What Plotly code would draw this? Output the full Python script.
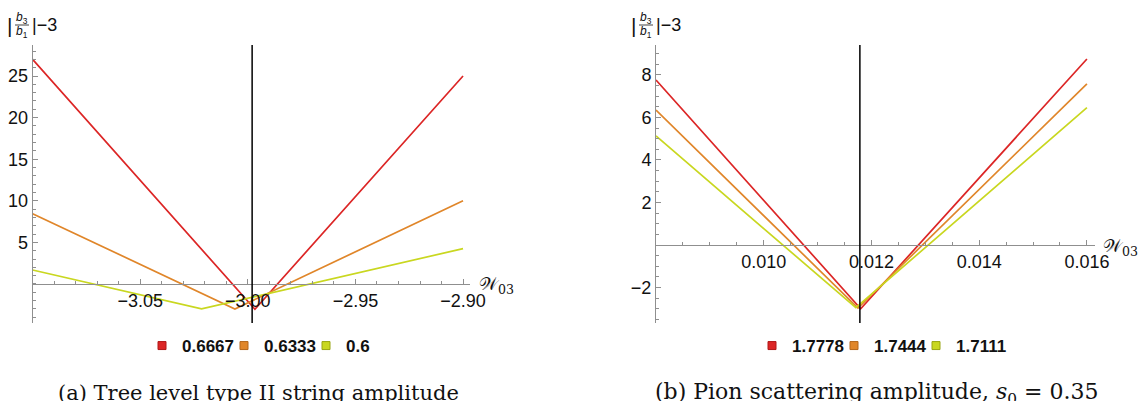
import plotly.graph_objects as go

W, H = 1142, 401

# ---------------- data: panel (a) tree-level type II string amplitude ----------
a_names = ["0.6667", "0.6333", "0.6"]
a_x_red = [-3.1, -2.9967, -2.9]
a_y_red = [27.0, -3.04, 25.0]
a_x_orange = [-3.1, -3.006, -2.9]
a_y_orange = [8.45, -3.0, 10.0]
a_x_yellow = [-3.1, -3.0215, -2.9]
a_y_yellow = [1.68, -3.0, 4.25]
a_vline = -2.998
a_xticks = [-3.05, -3.00, -2.95, -2.90]
a_yticks = [5, 10, 15, 20, 25]

# ---------------- data: panel (b) pion scattering amplitude --------------------
b_names = ["1.7778", "1.7444", "1.7111"]
b_x_red = [0.008, 0.01180, 0.016]
b_y_red = [7.76, -3.0, 8.75]
b_x_orange = [0.008, 0.01175, 0.016]
b_y_orange = [6.35, -2.97, 7.58]
b_x_yellow = [0.008, 0.01171, 0.016]
b_y_yellow = [5.13, -2.95, 6.46]
b_vline = 0.011785
b_xticks = [0.010, 0.012, 0.014, 0.016]
b_yticks = [-2, 2, 4, 6, 8]

colors = ["#dc2626", "#e0862a", "#c9d720"]
edges = ["#b01818", "#b3661c", "#9aa515"]

AXC = "#8f8f8f"
SANS = "Liberation Sans"
SERIF = "DejaVu Serif"


def px(x):
    return x / W


def py(y):
    return 1 - y / H


fig = go.Figure()

a_sets = [(a_x_red, a_y_red), (a_x_orange, a_y_orange), (a_x_yellow, a_y_yellow)]
b_sets = [(b_x_red, b_y_red), (b_x_orange, b_y_orange), (b_x_yellow, b_y_yellow)]

for (xs, ys), c in zip(a_sets, colors):
    fig.add_trace(go.Scatter(x=xs, y=ys, mode="lines", line=dict(color=c, width=1.7),
                             showlegend=False, xaxis="x", yaxis="y"))
for (xs, ys), c in zip(b_sets, colors):
    fig.add_trace(go.Scatter(x=xs, y=ys, mode="lines", line=dict(color=c, width=1.7),
                             showlegend=False, xaxis="x2", yaxis="y2"))

# legend entries (square swatches)
for i, (name, c, e) in enumerate(zip(a_names, colors, edges)):
    fig.add_trace(go.Scatter(x=[None], y=[None], mode="markers", name=name,
                             marker=dict(symbol="square", size=8, color=c, line=dict(color=e, width=1)),
                             legend="legend", legendwidth=37 if i < 2 else 60,
                             xaxis="x", yaxis="y"))
for i, (name, c, e) in enumerate(zip(b_names, colors, edges)):
    fig.add_trace(go.Scatter(x=[None], y=[None], mode="markers", name=name,
                             marker=dict(symbol="square", size=8, color=c, line=dict(color=e, width=1)),
                             legend="legend2", legendwidth=37 if i < 2 else 60,
                             xaxis="x2", yaxis="y2"))

ydom = [py(323), py(45)]

a_yr = [-4.69, 28.73]
b_yr = [-3.67, 9.41]
a_xr = [-3.1, -2.897]
b_xr = [0.008, 0.01615]


def zero_pos(yr):
    return ydom[0] + (0 - yr[0]) / (yr[1] - yr[0]) * (ydom[1] - ydom[0])


common_ax = dict(showline=True, linecolor=AXC, linewidth=1, ticks="inside", ticklen=5,
                 tickcolor=AXC, tickwidth=1, showgrid=False, zeroline=False, automargin=False,
                 tickfont=dict(family=SANS, size=18, color="#111"))

legend_common = dict(orientation="h", xanchor="left", yanchor="middle",
                     font=dict(family=SANS, size=17, color="#111", weight="bold"),
                     bgcolor="rgba(0,0,0,0)", borderwidth=0, itemwidth=30,
                     entrywidthmode="pixels", traceorder="normal")

fig.update_layout(
    template="none",
    width=W, height=H, autosize=False,
    margin=dict(l=0, r=0, t=0, b=0, pad=0),
    paper_bgcolor="white", plot_bgcolor="white",
    xaxis=dict(domain=[px(32.6), px(469.5)], range=a_xr, anchor="free", position=zero_pos(a_yr),
               tickmode="array", tickvals=a_xticks, tickformat=".2f",
               minor=dict(tickmode="linear", tick0=-3.1, dtick=0.01, ticks="inside", ticklen=3,
                          tickcolor=AXC),
               **common_ax),
    yaxis=dict(domain=ydom, range=a_yr, anchor="x",
               tickmode="array", tickvals=a_yticks,
               minor=dict(tickmode="linear", tick0=0, dtick=1, ticks="inside", ticklen=3,
                          tickcolor=AXC),
               **common_ax),
    xaxis2=dict(domain=[px(656), px(1095)], range=b_xr, anchor="free", position=zero_pos(b_yr),
                tickmode="array", tickvals=b_xticks, tickformat=".3f",
                minor=dict(tickmode="linear", tick0=0.008, dtick=0.0005, ticks="inside", ticklen=3,
                           tickcolor=AXC),
                **common_ax),
    yaxis2=dict(domain=ydom, range=b_yr, anchor="x2",
                tickmode="array", tickvals=b_yticks,
                minor=dict(tickmode="linear", tick0=0, dtick=0.5, ticks="inside", ticklen=3,
                           tickcolor=AXC),
                **common_ax),
    legend=dict(x=px(142), y=py(346), **legend_common),
    legend2=dict(x=px(752), y=py(346), **legend_common),
)

# vertical reference lines
for xv, xr, yr_ in [(a_vline, "x", "y domain"), (b_vline, "x2", "y2 domain")]:
    fig.add_shape(type="line", x0=xv, x1=xv, y0=0, y1=1, xref=xr, yref=yr_,
                  line=dict(color="black", width=1.5), layer="above")

annots = []
# y-axis titles  |b3/b1|-3
for xb in (9, 633):
    annots.append(dict(x=px(xb), y=py(25), text="|", font=dict(family=SANS, size=21, color="#111")))
    annots.append(dict(x=px(xb + 13), y=py(18.5), text="<i>b</i><sub>3</sub>",
                       font=dict(family=SANS, size=12, color="#111")))
    annots.append(dict(x=px(xb + 13), y=py(31.5), text="<i>b</i><sub>1</sub>",
                       font=dict(family=SANS, size=12, color="#111")))
    annots.append(dict(x=px(xb + 21), y=py(25), text="|−3", xanchor="left",
                       font=dict(family=SANS, size=18, color="#111")))
    fig.add_shape(type="line", xref="paper", yref="paper", x0=px(xb + 6), x1=px(xb + 20),
                  y0=py(25), y1=py(25), line=dict(color="#111", width=0.8))

# x-axis titles W03
for xl, yl in [(477, 285), (1101, 247)]:
    annots.append(dict(x=px(xl), y=py(yl), xanchor="left", text="𝒲<sub>03</sub>",
                       font=dict(family="DejaVu Serif", size=18, color="#111")))

# captions
annots.append(dict(x=px(258), y=py(393), text="(a) Tree level type II string amplitude",
                   font=dict(family=SERIF, size=21, color="#111")))
annots.append(dict(x=px(876), y=py(393), text="(b) Pion scattering amplitude, <i>s</i><sub>0</sub> = 0.35",
                   font=dict(family=SERIF, size=22, color="#111")))

for a in annots:
    a.setdefault("xanchor", "center")
    a.setdefault("yanchor", "middle")
    a.update(xref="paper", yref="paper", showarrow=False)
fig.update_layout(annotations=annots)

fig.write_html("out.html", config={"displayModeBar": False},
               post_script="document.body.style.margin='0';")
